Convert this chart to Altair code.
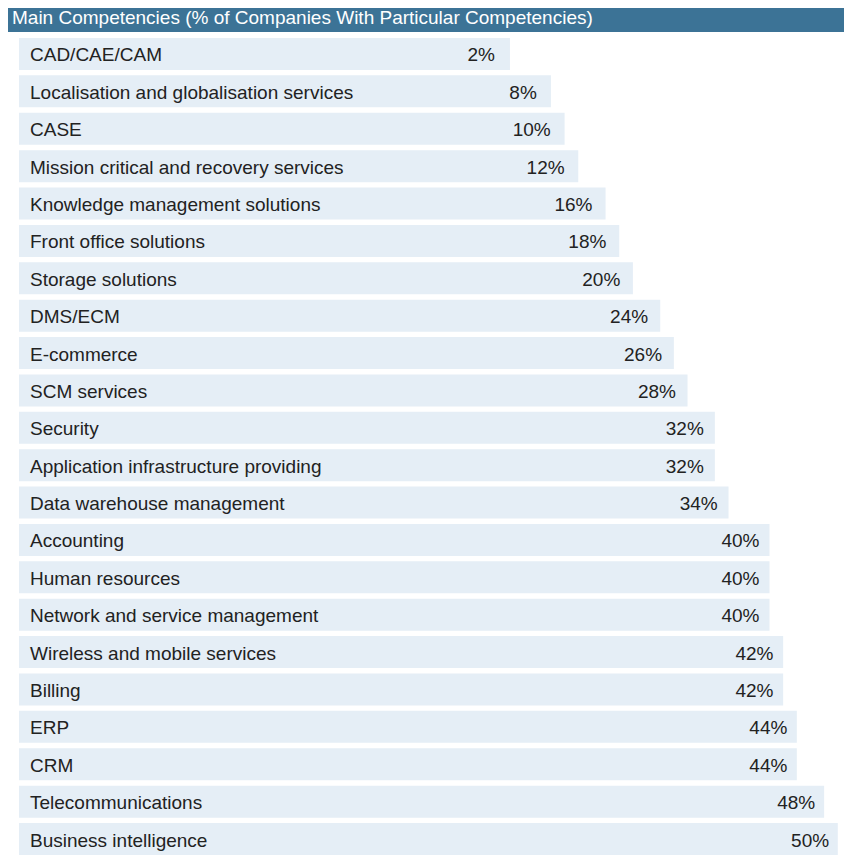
import altair as alt
import pandas as pd

TITLE = "Main Competencies (% of Companies With Particular Competencies)"

competencies = [
    "CAD/CAE/CAM",
    "Localisation and globalisation services",
    "CASE",
    "Mission critical and recovery services",
    "Knowledge management solutions",
    "Front office solutions",
    "Storage solutions",
    "DMS/ECM",
    "E-commerce",
    "SCM services",
    "Security",
    "Application infrastructure providing",
    "Data warehouse management",
    "Accounting",
    "Human resources",
    "Network and service management",
    "Wireless and mobile services",
    "Billing",
    "ERP",
    "CRM",
    "Telecommunications",
    "Business intelligence",
]
shares = [2, 8, 10, 12, 16, 18, 20, 24, 26, 28, 32, 32, 34, 40, 40, 40, 42, 42, 44, 44, 48, 50]

df = pd.DataFrame({"competency": competencies, "share": shares})
df["label"] = df["share"].astype(str) + "%"

W, H = 836, 850
FONT = "Liberation Sans"
BAR = "#e5eef6"
HEAD = "#3c7396"
TXT = "#222222"

yenc = alt.Y(
    "competency:N",
    sort=None,
    axis=None,
    scale=alt.Scale(range=[27.3, 849.7], paddingInner=0.144, paddingOuter=0.072),
)

base = alt.Chart(df)

bars = base.mark_rect(color=BAR).encode(
    x=alt.X("share:Q", axis=None, scale=alt.Scale(domain=[0, 50], range=[488.3, 829.8])),
    x2=alt.value(11),
    y=yenc,
)

names = base.mark_text(
    align="left", baseline="alphabetic", dy=7.5, font=FONT, fontSize=19, color=TXT
).encode(
    x=alt.value(22),
    y=yenc,
    text="competency:N",
)

values = base.mark_text(
    align="right", baseline="alphabetic", dy=7.5, font=FONT, fontSize=19, color=TXT
).encode(
    x=alt.X("share:Q", axis=None, scale=alt.Scale(domain=[0, 50], range=[473.1, 821.1])),
    y=yenc,
    text="label:N",
)

head_df = pd.DataFrame({"t": [TITLE]})
head = alt.Chart(head_df).mark_rect(color=HEAD).encode(
    x=alt.value(0), x2=alt.value(W), y=alt.value(0), y2=alt.value(24)
)
head_text = alt.Chart(head_df).mark_text(
    align="left", baseline="alphabetic", font=FONT, fontSize=19, color="white"
).encode(x=alt.value(4), y=alt.value(16), text="t:N")

chart = (
    alt.layer(bars, values, names, head, head_text)
    .resolve_scale(x="independent")
    .properties(
        width=W,
        height=H,
        padding=0,
        autosize=alt.AutoSizeParams(type="fit", contains="padding"),
        background="white",
    )
    .configure_view(stroke=None)
)

chart.save("out.html", embed_options={"renderer": "svg", "actions": False})
